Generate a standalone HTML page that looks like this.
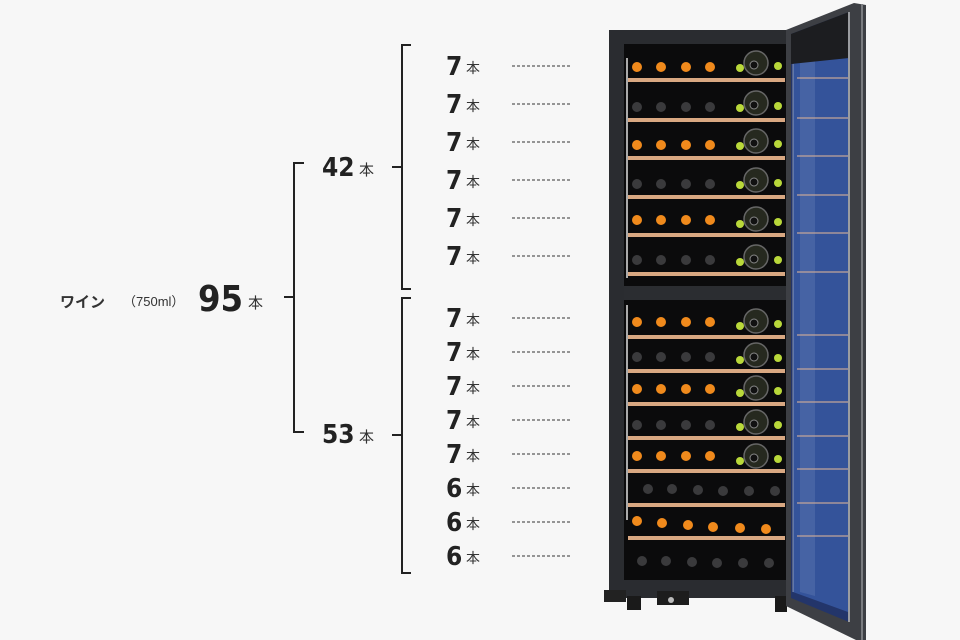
<!DOCTYPE html>
<html><head><meta charset="utf-8"><style>
html,body{margin:0;padding:0;background:#f7f7f7}
body{width:960px;height:640px;overflow:hidden}
svg{display:block}
.n{font-family:"DejaVu Sans Condensed","DejaVu Sans","Liberation Sans",sans-serif;font-weight:bold;fill:#222}
.h{font-family:"Liberation Sans","Noto Sans CJK JP",sans-serif;fill:#333}
</style></head><body>
<svg width="960" height="640" viewBox="0 0 960 640" xmlns="http://www.w3.org/2000/svg">
<rect width="960" height="640" fill="#f7f7f7"/>
<g stroke="#222" stroke-width="2" fill="none">
<path d="M284 297H294M304 163H294V432H304"/>
<path d="M392 167H402M411 45H402V289H411"/>
<path d="M392 435H402M411 298H402V573H411"/>
</g>
<text x="60" y="307" class="h" font-size="15" font-weight="bold" fill="#222">ワイン</text>
<text x="123" y="306" class="h" font-size="13">（750ml）</text>
<text x="198" y="311" class="n" font-size="36">95</text>
<text x="248" y="308" class="h" font-size="15">本</text>
<text x="322" y="176" class="n" font-size="26">42</text>
<text x="359" y="175" class="h" font-size="15">本</text>
<text x="322" y="443" class="n" font-size="26">53</text>
<text x="359" y="442" class="h" font-size="15">本</text>
<g stroke="#333" stroke-width="1" stroke-dasharray="3,2">
<path d="M512 66H570M512 104H570M512 142H570M512 180H570M512 218H570M512 256H570M512 318H570M512 352H570M512 386H570M512 420H570M512 454H570M512 488H570M512 522H570M512 556H570"/>
</g>
<g class="n" font-size="26">
<text x="446" y="75">7</text><text x="446" y="113">7</text><text x="446" y="151">7</text><text x="446" y="189">7</text><text x="446" y="227">7</text><text x="446" y="265">7</text>
<text x="446" y="327">7</text><text x="446" y="361">7</text><text x="446" y="395">7</text><text x="446" y="429">7</text><text x="446" y="463">7</text><text x="446" y="497">6</text><text x="446" y="531">6</text><text x="446" y="565">6</text>
</g>
<g class="h" font-size="14">
<text x="466" y="73">本</text><text x="466" y="111">本</text><text x="466" y="149">本</text><text x="466" y="187">本</text><text x="466" y="225">本</text><text x="466" y="263">本</text>
<text x="466" y="325">本</text><text x="466" y="359">本</text><text x="466" y="393">本</text><text x="466" y="427">本</text><text x="466" y="461">本</text><text x="466" y="495">本</text><text x="466" y="529">本</text><text x="466" y="563">本</text>
</g>
<rect x="609" y="30" width="180" height="568" fill="#2a2c30"/>
<rect x="624" y="44" width="163" height="536" fill="#0b0b0c"/>
<rect x="624" y="286" width="163" height="14" fill="#2b2d31"/>
<rect x="626" y="58" width="2" height="220" fill="#aaa"/>
<rect x="626" y="305" width="2" height="215" fill="#aaa"/>
<rect x="604" y="590" width="22" height="12" fill="#222"/>
<rect x="627" y="596" width="14" height="14" fill="#1a1a1a"/>
<rect x="657" y="591" width="32" height="14" fill="#1d1d1d"/>
<circle cx="671" cy="600" r="3" fill="#bbb"/>
<rect x="775" y="596" width="12" height="16" fill="#1a1a1a"/>
<g fill="#d9a882">
<rect x="628" y="78" width="157" height="4"/><rect x="628" y="118" width="157" height="4"/><rect x="628" y="156" width="157" height="4"/><rect x="628" y="195" width="157" height="4"/><rect x="628" y="233" width="157" height="4"/><rect x="628" y="272" width="157" height="4"/>
<rect x="628" y="335" width="157" height="4"/><rect x="628" y="369" width="157" height="4"/><rect x="628" y="402" width="157" height="4"/><rect x="628" y="436" width="157" height="4"/><rect x="628" y="469" width="157" height="4"/><rect x="628" y="503" width="157" height="4"/><rect x="628" y="536" width="157" height="4"/>
</g>
<g fill="#f08a1c">
<g id="or"><circle cx="637" cy="67" r="5"/><circle cx="661" cy="67" r="5"/><circle cx="686" cy="67" r="5"/><circle cx="710" cy="67" r="5"/></g>
<use href="#or" y="78"/><use href="#or" y="153"/><use href="#or" y="255"/><use href="#or" y="322"/><use href="#or" y="389"/>
<circle cx="637" cy="521" r="5"/><circle cx="662" cy="523" r="5"/><circle cx="688" cy="525" r="5"/><circle cx="713" cy="527" r="5"/><circle cx="740" cy="528" r="5"/><circle cx="766" cy="529" r="5"/>
</g>
<g fill="#3a3a3c">
<g id="gr"><circle cx="637" cy="107" r="5"/><circle cx="661" cy="107" r="5"/><circle cx="686" cy="107" r="5"/><circle cx="710" cy="107" r="5"/></g>
<use href="#gr" y="77"/><use href="#gr" y="153"/><use href="#gr" y="250"/><use href="#gr" y="318"/>
<g id="g6"><circle cx="648" cy="489" r="5"/><circle cx="672" cy="489" r="5"/><circle cx="698" cy="490" r="5"/><circle cx="723" cy="491" r="5"/><circle cx="749" cy="491" r="5"/><circle cx="775" cy="491" r="5"/></g>
<use href="#g6" x="-6" y="72"/>
</g>
<g id="big">
<circle cx="740" cy="68" r="4" fill="#b9d83a"/><circle cx="778" cy="66" r="4" fill="#b9d83a"/>
<circle cx="756" cy="63" r="12" fill="#26291f" stroke="#666" stroke-width="1.5"/><circle cx="754" cy="65" r="4" fill="#111" stroke="#888" stroke-width="1"/>
</g>
<use href="#big" y="40"/><use href="#big" y="78"/><use href="#big" y="117"/><use href="#big" y="156"/><use href="#big" y="194"/>
<use href="#big" y="258"/><use href="#big" y="292"/><use href="#big" y="325"/><use href="#big" y="359"/><use href="#big" y="393"/>
<polygon points="786,30 854,3 866,5 866,640 856,640 786,606" fill="#3d3f44"/>
<polygon points="791,34 849,12 849,622 791,598" fill="#23356a"/>
<polygon points="793,62 848,56 848,612 793,592" fill="#34539a"/>
<polygon points="800,62 815,61 815,596 800,592" fill="#6a82b8" opacity="0.35"/>
<polygon points="791,34 849,12 849,58 791,64" fill="#1c1d20"/>
<g stroke="#c9a899" stroke-width="2" opacity="0.6">
<path d="M797 78H848M797 118H848M797 156H848M797 195H848M797 233H848M797 272H848M797 335H848M797 369H848M797 402H848M797 436H848M797 469H848M797 503H848M797 536H848"/>
</g>
<path d="M793 64V592" stroke="#c8ccd6" stroke-width="1" opacity="0.6"/>
<path d="M849 12V622" stroke="#9a9ca0" stroke-width="2"/>
<path d="M862 4V640" stroke="#7a7c80" stroke-width="2"/>
</svg>
</body></html>
